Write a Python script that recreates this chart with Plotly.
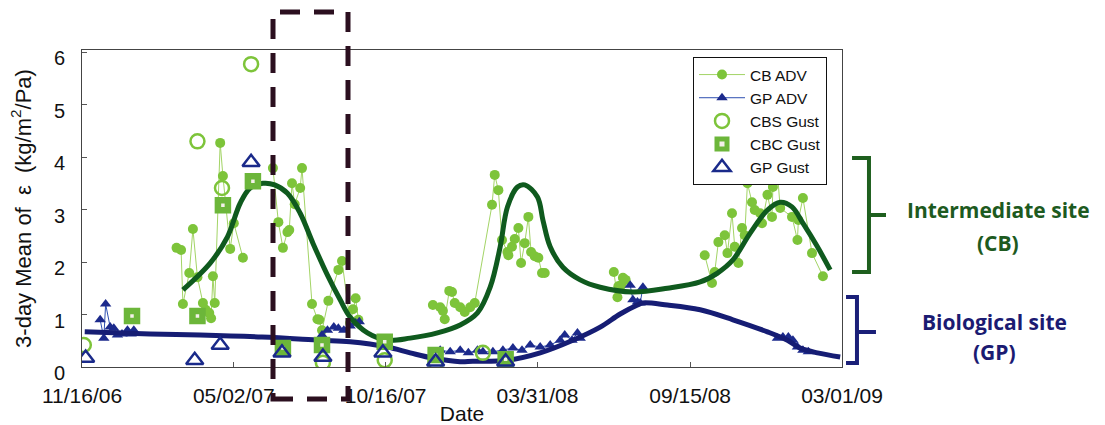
import pandas as pd
import plotly.graph_objects as go

# Deployment dates are stored as days after the first record (2006-11-16).
START = pd.Timestamp("2006-11-16")
END = pd.Timestamp("2009-03-01")

tick_dates = ["2006-11-16", "2007-05-02", "2007-10-16", "2008-03-31", "2008-09-15", "2009-03-01"]
tick_text = ["11/16/06", "05/02/07", "10/16/07", "03/31/08", "09/15/08", "03/01/09"]

# CB ADV record (None separates deployments)
cb_adv_day = [104, 109, 111, 118, 122, 127, 133, 136, 140, 142, 144, 146, 152, 155, 163, 167, 177, None,
              210, 216, 221, 226, 228, 231, 234, 240, 242, 253, 259, 261, 264, 271, 282, 286, 295, 298, 301, 304, None,
              386, 394, 397, 399, 404, 407, 410, 416, 421, 427, 432, 451, 454, 458, 462, 468, 469, 473, 476, 480,
              483, 487, 491, 494, 498, 502, 506, 509, None,
              585, 589, 590, 593, 595, 598, None,
              685, 693, 696, 700, 707, 710, 715, 718, 722, 726, 729, 732, 737, 740, 746, 748, 754, 759, 760, 765,
              768, 781, 787, 788, 793, 803, 815]
cb_adv_val = [2.27, 2.23, 1.20, 1.79, 2.63, 1.71, 1.22, 1.09, 1.03, 0.93, 1.73, 1.22, 4.27, 3.64, 2.25, 2.74, 2.08, None,
              3.79, 2.76, 2.27, 2.57, 2.61, 3.50, 3.10, 3.41, 3.79, 1.20, 0.91, 0.90, 0.70, 1.26, 1.85, 2.02, 0.84, 1.10, 1.31, 0.90, None,
              1.18, 1.14, 1.07, 0.91, 1.45, 1.43, 1.22, 1.14, 1.05, 1.14, 1.22, 3.09, 3.66, 3.37, 2.42, 2.19, 2.13, 2.29, 2.44, 2.65,
              1.98, 2.36, 2.86, 2.19, 2.11, 2.08, 1.79, 1.79, None,
              1.81, 1.33, 1.54, 1.56, 1.70, 1.66, None,
              2.13, 1.60, 1.81, 2.38, 2.51, 2.17, 2.93, 2.29, 1.98, 2.65, 2.51, 3.50, 3.14, 2.99, 2.93, 2.74, 3.28, 2.86, 3.43, 3.70,
              3.03, 2.86, 2.42, 2.80, 3.22, 2.17, 1.73]

# GP ADV record
gp_adv_day = [20, 24, 26, 31, 35, 39, 44, 50, 54, 57, None,
              264, 270, 277, 282, 288, 295, 301, 305, None,
              394, 405, 416, 425, 435, 441, 452, 463, 474, 484, 493, 504, 515, 526, 531, 539, 545, 548, None,
              603, 606, 611, 614, 617, None,
              765, 771, 777, 782, 787, 793, 799]
gp_adv_val = [0.90, 0.55, 1.20, 0.76, 0.74, 0.61, 0.63, 0.70, 0.63, 0.70, None,
              0.61, 0.70, 0.76, 0.74, 0.70, 0.78, 0.84, 0.86, None,
              0.32, 0.29, 0.32, 0.27, 0.32, 0.29, 0.29, 0.32, 0.36, 0.32, 0.42, 0.38, 0.42, 0.51, 0.61, 0.51, 0.65, 0.55, None,
              1.56, 1.28, 1.24, 1.22, 1.52, None,
              0.55, 0.57, 0.57, 0.51, 0.38, 0.32, 0.29]

# Gust chamber measurements
cbs_gust_day = [2, 127, 154, 186, 265, 333, 389, 441]
cbs_gust_val = [0.42, 4.30, 3.41, 5.77, 0.08, 0.13, 0.08, 0.27]

cbc_gust_day = [55, 127, 155, 188, 221, 264, 333, 389, 466]
cbc_gust_val = [0.97, 0.97, 3.08, 3.54, 0.36, 0.42, 0.48, 0.23, 0.15]

gp_gust_day = [4, 124, 152, 186, 220, 265, 331, 389, 466]
gp_gust_val = [0.17, 0.13, 0.42, 3.90, 0.27, 0.19, 0.27, 0.10, 0.10]

# Seasonal fits
cb_fit_day = [111, 141, 160, 174, 185, 199, 212, 226, 240, 254, 270, 284, 295, 314, 336, 361, 391, 416, 435, 449,
              460, 468, 479, 487, 501, 507, 515, 529, 548, 570, 606, 644, 680, 699, 716, 735, 754, 768, 781, 793,
              809, 823]
cb_fit_val = [1.47, 1.98, 2.48, 3.12, 3.41, 3.50, 3.47, 3.31, 2.93, 2.36, 1.75, 1.28, 0.95, 0.65, 0.51, 0.55, 0.65,
              0.80, 1.03, 1.52, 2.29, 3.05, 3.43, 3.47, 3.24, 2.80, 2.29, 1.90, 1.66, 1.52, 1.43, 1.50, 1.62, 1.79,
              2.04, 2.55, 2.99, 3.14, 3.05, 2.74, 2.29, 1.85]

gp_fit_day = [3, 75, 130, 198, 262, 295, 336, 361, 386, 416, 430, 468, 504, 540, 570, 592, 611, 617, 644, 680,
              716, 754, 776, 790, 809, 834]
gp_fit_val = [0.67, 0.63, 0.61, 0.57, 0.51, 0.48, 0.38, 0.27, 0.17, 0.10, 0.11, 0.13, 0.27, 0.51, 0.76, 1.01,
              1.18, 1.22, 1.18, 1.09, 0.90, 0.67, 0.51, 0.36, 0.27, 0.19]


def to_dates(days):
    return [None if d is None else START + pd.Timedelta(days=d) for d in days]


LIGHT_GREEN = "#7dc43a"
DARK_GREEN = "#0f5a1e"
NAVY = "#161d74"
BOX = "#2b0f1f"

fig = go.Figure()

fig.add_trace(go.Scatter(
    x=to_dates(cb_adv_day), y=cb_adv_val, name="CB ADV", mode="lines+markers",
    line=dict(color="#a3d466", width=1),
    marker=dict(symbol="circle", size=10, color=LIGHT_GREEN),
))
fig.add_trace(go.Scatter(
    x=to_dates(gp_adv_day), y=gp_adv_val, name="GP ADV", mode="lines+markers",
    line=dict(color="#2d4fb0", width=1),
    marker=dict(symbol="triangle-up", size=10, color="#1c2a8c"),
))
fig.add_trace(go.Scatter(
    x=to_dates(cb_fit_day), y=cb_fit_val, mode="lines", showlegend=False,
    line=dict(color=DARK_GREEN, width=5, shape="spline"),
))
fig.add_trace(go.Scatter(
    x=to_dates(gp_fit_day), y=gp_fit_val, mode="lines", showlegend=False,
    line=dict(color=NAVY, width=5, shape="spline"),
))
fig.add_trace(go.Scatter(
    x=to_dates(cbs_gust_day), y=cbs_gust_val, name="CBS Gust", mode="markers",
    marker=dict(symbol="circle-open", size=14, color=LIGHT_GREEN, line=dict(width=2.5)),
))
fig.add_trace(go.Scatter(
    x=to_dates(cbc_gust_day), y=cbc_gust_val, name="CBC Gust", mode="markers",
    marker=dict(symbol="square", size=10, color="#f4f0ea", line=dict(color="#6cb63a", width=6.5)),
))
fig.add_trace(go.Scatter(
    x=to_dates(gp_gust_day), y=gp_gust_val, name="GP Gust", mode="markers",
    marker=dict(symbol="triangle-up-open", size=15, color="#1a2a8a", line=dict(width=2.5)),
))

# plot-area geometry in pixels, used to place the decorations in paper units
L, R, T, B = 82, 842, 50, 367


def px(x):
    return (x - L) / (R - L)


def py(y):
    return (B - y) / (B - T)


def path(points):
    return "M " + " L ".join(f"{px(x):.4f},{py(y):.4f}" for x, y in points)


shapes = [
    # highlighted period
    dict(type="rect", xref="paper", yref="paper", x0=px(273), x1=px(348), y0=py(399), y1=py(12),
         line=dict(color=BOX, width=5, dash="20px,14px"), layer="above"),
    # intermediate-site bracket
    dict(type="path", xref="paper", yref="paper", path=path([(852, 158), (869, 158), (869, 272), (852, 272)]),
         line=dict(color="#1e5f1e", width=4)),
    dict(type="path", xref="paper", yref="paper", path=path([(869, 215), (886, 215)]),
         line=dict(color="#1e5f1e", width=4)),
    # biological-site bracket
    dict(type="path", xref="paper", yref="paper", path=path([(846, 297), (857, 297), (857, 363), (846, 363)]),
         line=dict(color="#1a1f78", width=4)),
    dict(type="path", xref="paper", yref="paper", path=path([(857, 332), (876, 332)]),
         line=dict(color="#1a1f78", width=4)),
]

label_font = dict(family="Open Sans", size=21, color="#1d5a20")
blue_font = dict(family="Open Sans", size=21, color="#1b1b72")
annotations = [
    dict(text="<b>Intermediate site</b>", x=px(999), y=py(210), font=label_font),
    dict(text="<b>(CB)</b>", x=px(998), y=py(243), font=label_font),
    dict(text="<b>Biological site</b>", x=px(995), y=py(322), font=blue_font),
    dict(text="<b>(GP)</b>", x=px(995), y=py(352), font=blue_font),
]
for a in annotations:
    a.update(xref="paper", yref="paper", showarrow=False, xanchor="center", yanchor="middle")

fig.update_layout(
    width=1105, height=425,
    margin=dict(l=L, r=1105 - R, t=T, b=425 - B, autoexpand=False),
    paper_bgcolor="white", plot_bgcolor="white",
    font=dict(family="Liberation Sans", color="#111111"),
    shapes=shapes, annotations=annotations,
    legend=dict(x=px(693), y=py(57), xanchor="left", yanchor="top",
                bgcolor="white", bordercolor="#111111", borderwidth=1,
                font=dict(size=15.5), tracegroupgap=0, itemwidth=46),
)
fig.update_xaxes(
    type="date", range=[START, END], tickvals=tick_dates, ticktext=tick_text,
    ticks="inside", ticklen=5, tickcolor="#555555", automargin=False,
    showline=True, mirror=True, linecolor="#444444", linewidth=1,
    showgrid=False, zeroline=False, tickfont=dict(size=21), ticklabelstandoff=10,
    title=dict(text="Date", font=dict(size=21), standoff=8),
)
fig.update_yaxes(
    range=[0, 6.04], tickvals=[0, 1, 2, 3, 4, 5, 6],
    ticks="inside", ticklen=5, tickcolor="#555555", automargin=False,
    showline=True, mirror=True, linecolor="#444444", linewidth=1,
    showgrid=False, zeroline=False, tickfont=dict(size=20), ticklabelstandoff=12, ticklabelshift=6,
    title=dict(text="3-day Mean of  ε  (kg/m<sup>2</sup>/Pa)", font=dict(size=22), standoff=16),
)

fig.write_html("out.html")
